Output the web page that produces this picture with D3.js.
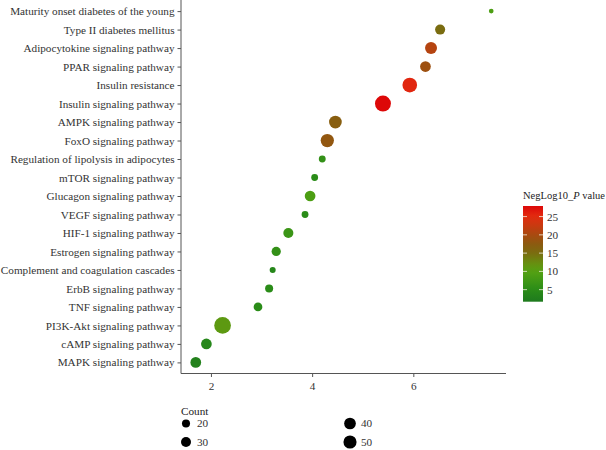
<!DOCTYPE html>
<html lang="en">
<head>
    <meta charset="UTF-8"/>
    <title>KEGG bubble chart</title>
    <script src="https://d3js.org/d3.v7.min.js"></script>
    <style>
        body { margin: 0; background: #fff; }
        svg { font-family: "Liberation Serif", "DejaVu Serif", serif; }
        .axis path, .axis line { stroke: #555; }
        .axis text { fill: #333; font-size: 11.2px; }
    </style>
</head>
<body>
<script>
    var w = 606;
    var h = 450;
    var fontFam = "Liberation Serif, DejaVu Serif, serif";
    var fs = "11.2px";

    // pathways, top to bottom
    var pathways = [
        "Maturity onset diabetes of the young",
        "Type II diabetes mellitus",
        "Adipocytokine signaling pathway",
        "PPAR signaling pathway",
        "Insulin resistance",
        "Insulin signaling pathway",
        "AMPK signaling pathway",
        "FoxO signaling pathway",
        "Regulation of lipolysis in adipocytes",
        "mTOR signaling pathway",
        "Glucagon signaling pathway",
        "VEGF signaling pathway",
        "HIF-1 signaling pathway",
        "Estrogen signaling pathway",
        "Complement and coagulation cascades",
        "ErbB signaling pathway",
        "TNF signaling pathway",
        "PI3K-Akt signaling pathway",
        "cAMP signaling pathway",
        "MAPK signaling pathway"
    ];
    var enrichment = [7.54, 6.53, 6.35, 6.24, 5.93, 5.40, 4.46, 4.30, 4.20, 4.05,
                      3.96, 3.86, 3.53, 3.29, 3.22, 3.15, 2.93, 2.23, 1.91, 1.70];
    var counts = [8, 30, 42, 34, 62, 73, 47, 51, 15, 15,
                  34, 15, 30, 26, 12, 20, 23, 80, 34, 34];
    var negLogP = [9, 15, 21, 19, 25.5, 27.9, 17, 18, 6, 5,
                   9, 5, 7, 6, 4, 5, 5, 11, 4, 3];

    var xTicks = [2, 4, 6];
    var colorTicks = [5, 10, 15, 20, 25];
    var countTicks = [20, 30, 40, 50];
    var colorDomain = [1.7, 27.9];

    var data = pathways.map(function(p, i) {
        return { name: p, x: enrichment[i], count: counts[i], p: negLogP[i] };
    });

    var panel = { left: 181, right: 506, top: 0, bottom: 373.5 };

    var ext = d3.extent(enrichment);
    var pad = (ext[1] - ext[0]) * 0.05;
    var xScale = d3.scaleLinear()
        .domain([ext[0] - pad, ext[1] + pad])
        .range([panel.left, panel.right]);

    var yScale = d3.scalePoint()
        .domain(pathways)
        .range([panel.top, panel.bottom])
        .padding(0.6);

    var rScale = d3.scaleRadial()
        .domain(d3.extent(counts))
        .range([2.35, 8.35]);

    var colorScale = d3.scaleLinear()
        .domain([1.7, 5, 10, 12.5, 15, 17.5, 20, 22.5, 25, 27.9])
        .range(["#1e7a1e", "#2a8c18", "#55a212", "#6a8c10", "#7a6c10",
                "#8c5a10", "#a84a10", "#c83a10", "#e22c10", "#dd0808"])
        .interpolate(d3.interpolateRgb);

    var svg = d3.select("body")
        .append("svg")
        .attr("width", w)
        .attr("height", h);

    // axes
    svg.append("g")
        .attr("class", "axis")
        .attr("transform", "translate(" + panel.left + ",0)")
        .call(d3.axisLeft(yScale).tickSize(3.5).tickPadding(3))
        .attr("font-family", fontFam)
        .call(function(g) { g.select(".domain").attr("d", "M0," + panel.top + "V" + panel.bottom); });

    svg.append("g")
        .attr("class", "axis")
        .attr("transform", "translate(0," + panel.bottom + ")")
        .call(d3.axisBottom(xScale).tickValues(xTicks).tickFormat(d3.format("d")).tickSize(3.5).tickPadding(5))
        .attr("font-family", fontFam)
        .call(function(g) { g.select(".domain").attr("d", "M" + panel.left + ",0H" + panel.right); });

    // points
    svg.append("g")
        .selectAll("circle")
        .data(data)
        .enter()
        .append("circle")
        .attr("cx", function(d) { return xScale(d.x); })
        .attr("cy", function(d) { return yScale(d.name); })
        .attr("r", function(d) { return rScale(d.count); })
        .attr("fill", function(d) { return colorScale(d.p); });

    // colour bar legend
    var barX = 523, barW = 20, barTop = 206, barBottom = 301.7;
    var barScale = d3.scaleLinear().domain(colorDomain).range([barBottom, barTop]);

    var grad = svg.append("defs").append("linearGradient")
        .attr("id", "pgrad")
        .attr("x1", 0).attr("y1", 1).attr("x2", 0).attr("y2", 0);
    d3.range(0, 1.0001, 0.05).forEach(function(t) {
        var v = colorDomain[0] + t * (colorDomain[1] - colorDomain[0]);
        grad.append("stop").attr("offset", t).attr("stop-color", colorScale(v));
    });

    var title = svg.append("text")
        .attr("x", barX)
        .attr("y", 198.5)
        .attr("font-size", "10.5px")
        .attr("fill", "#222");
    title.append("tspan").text("NegLog10_");
    title.append("tspan").attr("font-style", "italic").text("P");
    title.append("tspan").text(" value");

    svg.append("rect")
        .attr("x", barX)
        .attr("y", barTop)
        .attr("width", barW)
        .attr("height", barBottom - barTop)
        .attr("fill", "url(#pgrad)");

    var cticks = svg.append("g").selectAll("g")
        .data(colorTicks)
        .enter()
        .append("g")
        .attr("transform", function(d) { return "translate(0," + barScale(d) + ")"; });
    cticks.append("line")
        .attr("x1", barX).attr("x2", barX + 4)
        .attr("stroke", "#f4f0e0").attr("stroke-width", 0.8);
    cticks.append("line")
        .attr("x1", barX + barW - 4).attr("x2", barX + barW)
        .attr("stroke", "#f4f0e0").attr("stroke-width", 0.8);
    cticks.append("text")
        .attr("x", barX + barW + 4)
        .attr("dy", "0.35em")
        .attr("font-size", fs)
        .attr("fill", "#333")
        .text(function(d) { return d; });

    // count legend
    svg.append("text")
        .attr("x", panel.left)
        .attr("y", 415)
        .attr("font-size", fs)
        .attr("fill", "#222")
        .text("Count");

    var sizeItems = svg.append("g").selectAll("g")
        .data(countTicks)
        .enter()
        .append("g")
        .attr("transform", function(d, i) {
            var col = Math.floor(i / 2), row = i % 2;
            return "translate(" + (186 + col * 164) + "," + (423.5 + row * 18.5) + ")";
        });
    sizeItems.append("circle")
        .attr("r", function(d) { return rScale(d); })
        .attr("fill", "#000");
    sizeItems.append("text")
        .attr("x", 11)
        .attr("dy", "0.35em")
        .attr("font-size", fs)
        .attr("fill", "#333")
        .text(function(d) { return d; });
</script>
</body>
</html>
